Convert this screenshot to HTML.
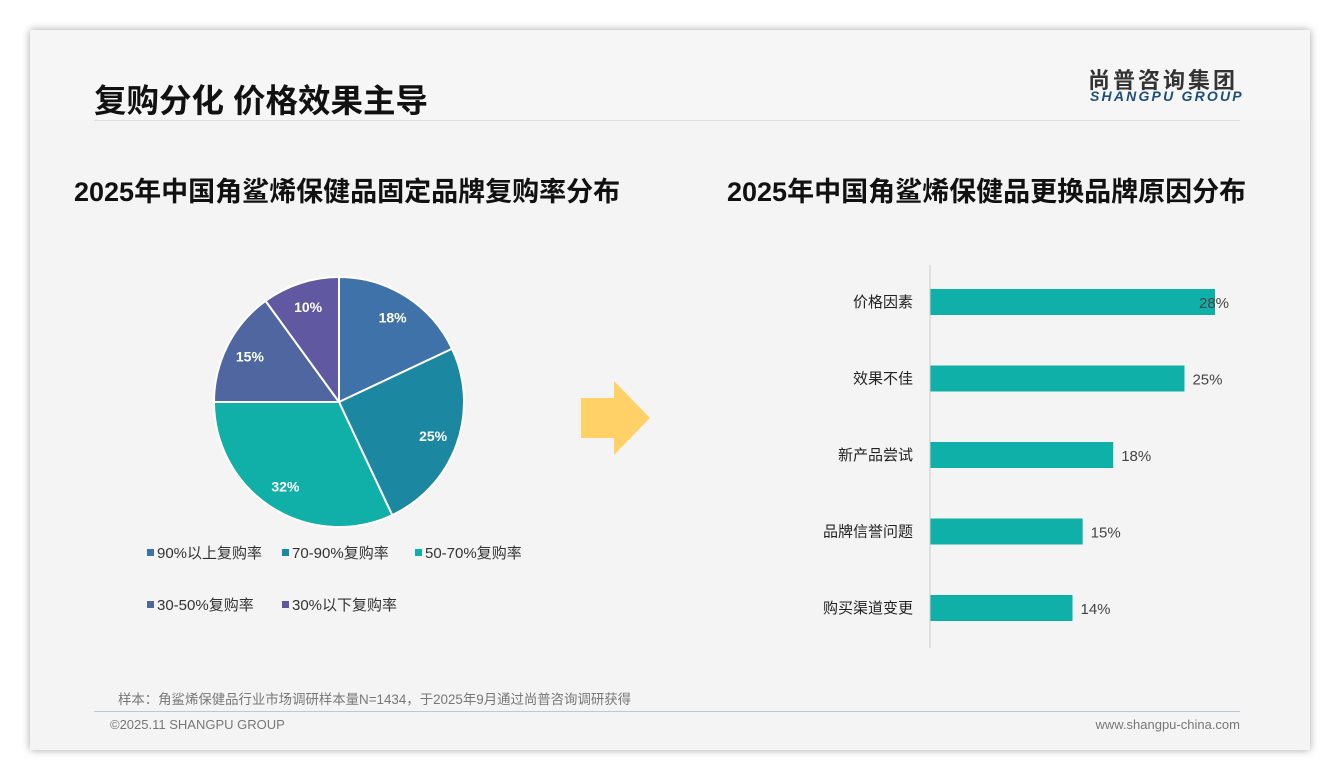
<!DOCTYPE html>
<html><head><meta charset="utf-8"><style>
body{margin:0;width:1340px;height:780px;background:#fff;font-family:"Liberation Sans","Noto Sans CJK SC",sans-serif;overflow:hidden}
#card{position:absolute;left:30px;top:30px;width:1280px;height:720px;background:#f4f4f4;box-shadow:0 0 8px rgba(0,0,0,.35)}
.abs{position:absolute;white-space:nowrap}
</style></head><body>
<div id="card">
 <div class="abs" style="left:0;top:0;width:1280px;height:90px;background:#f6f6f6"></div>
 <div class="abs" style="left:64px;top:45px;font-size:32.5px;font-weight:bold;color:#111">复购分化 价格效果主导</div>
 <div class="abs" style="left:1058px;top:33px;font-size:22px;font-weight:bold;color:#333;letter-spacing:3px">尚普咨询集团</div>
 <div class="abs" style="left:1060px;top:58px;font-size:14px;font-weight:bold;font-style:italic;color:#1e4f7a;letter-spacing:2.2px">SHANGPU GROUP</div>
 <div class="abs" style="left:64px;top:90px;width:1146px;height:1px;background:#ddd"></div>
 <div class="abs" style="left:44px;top:140px;font-size:27px;font-weight:bold;color:#111">2025年中国角鲨烯保健品固定品牌复购率分布</div>
 <div class="abs" style="left:697px;top:140px;font-size:27px;font-weight:bold;color:#111">2025年中国角鲨烯保健品更换品牌原因分布</div>
 <div class="abs" style="left:88px;top:658px;font-size:13.4px;color:#777">样本：角鲨烯保健品行业市场调研样本量N=1434，于2025年9月通过尚普咨询调研获得</div>
 <div class="abs" style="left:64px;top:681px;width:1146px;height:1px;background:#b9c9dc"></div>
 <div class="abs" style="left:80px;top:687px;font-size:13px;color:#777">©2025.11 SHANGPU GROUP</div>
 <div class="abs" style="right:70px;top:687px;font-size:13px;color:#777">www.shangpu-china.com</div>
</div>
<svg class="abs" style="left:0;top:0" width="1340" height="780">
 <polygon points="581,398 614,398 614,381 650,418 614,455 614,438 581,438" fill="#ffd166"/>
 <g id="pie"></g><g id="legend"></g><g id="bars"></g>
 <line x1="930" y1="265" x2="930" y2="648" stroke="#ccc"/>
</svg>
<script>
const pieLabels=["90%以上复购率","70-90%复购率","50-70%复购率","30-50%复购率","30%以下复购率"];
const pieValues=[18,25,32,15,10];
const pieColors=["#3f72a8","#1b87a0","#10b0a8","#4f66a0","#6058a0"];
const barCats=["价格因素","效果不佳","新产品尝试","品牌信誉问题","购买渠道变更"];
const barValues=[28,25,18,15,14];
const NS="http://www.w3.org/2000/svg";
function mk(t,a,p){const e=document.createElementNS(NS,t);for(const k in a)e.setAttribute(k,a[k]);p.appendChild(e);return e;}
const cx=339,cy=402,r=125,tot=pieValues.reduce((a,b)=>a+b,0);
let ang=0;const pie=document.getElementById('pie');
pieValues.forEach((v,i)=>{
 const a0=ang,a1=ang+v/tot*2*Math.PI;ang=a1;
 const p=(a)=>[cx+r*Math.sin(a),cy-r*Math.cos(a)];
 const [x0,y0]=p(a0),[x1,y1]=p(a1);
 const s=mk('path',{d:`M${cx},${cy}L${x0},${y0}A${r},${r} 0 ${a1-a0>Math.PI?1:0} 1 ${x1},${y1}Z`,fill:pieColors[i],stroke:'#fff','stroke-width':2},pie);
 
 
 const m=(a0+a1)/2;
 const t=mk('text',{x:cx+r*0.8*Math.sin(m),y:cy-r*0.8*Math.cos(m)+5,'text-anchor':'middle',fill:'#fff','font-size':14,'font-weight':'bold'},pie);
 t.textContent=v+'%';
 
 
});
const lg=document.getElementById('legend');
const lpos=[[147,553],[282,553],[415,553],[147,605],[282,605]];
pieLabels.forEach((l,i)=>{
 const g=mk('g',{},lg);
 
 
 mk('rect',{x:lpos[i][0],y:lpos[i][1]-4,width:7,height:7,fill:pieColors[i]},g);
 const t=mk('text',{x:lpos[i][0]+10,y:lpos[i][1]+5,'font-size':15,fill:'#333'},g);t.textContent=l;
});
const bg=document.getElementById('bars');
const x0=930,sc=285/28;
barCats.forEach((c,i)=>{
 const y=302+i*76.5;
 const b=mk('rect',{x:x0,y:y-13,width:barValues[i]*sc,height:26,fill:'#0fb0a8'},bg);
 
 
 const t=mk('text',{x:913,y:y+5,'text-anchor':'end','font-size':15,fill:'#222'},bg);t.textContent=c;
 
 
 const v=mk('text',{x:x0+barValues[i]*sc+(i==0?-16:8),y:y+6,'font-size':15,fill:'#444'},bg);v.textContent=barValues[i]+'%';
 
 
});
</script>
</body></html>
